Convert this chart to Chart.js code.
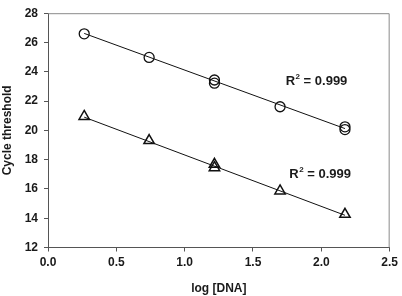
<!DOCTYPE html>
<html>
<head>
<meta charset="utf-8">
<script src="https://cdn.jsdelivr.net/npm/chart.js@4"></script>
<style>
html,body{margin:0;padding:0;background:#fff;}
#wrap{width:402px;height:296px;}
</style>
</head>
<body>
<div id="wrap"><canvas id="c" width="402" height="296"></canvas></div>
<script>
// Data
const circleX = [0.265, 0.74, 1.218, 1.218, 1.698, 2.173, 2.173];
const circleY = [26.59, 24.98, 23.44, 23.22, 21.61, 20.24, 20.05];
const triangleX = [0.265, 0.74, 1.218, 1.218, 1.698, 2.173];
const triangleY = [20.95, 19.3, 17.68, 17.45, 15.86, 14.27];
// Trend line endpoints
const fitTopX = [0.265, 2.173];
const fitTopY = [26.62, 20.12];
const fitBotX = [0.265, 2.173];
const fitBotY = [20.9, 14.2];
// Annotations
const r2Labels = ["R", "2", " = 0.999"];
const r2Pos = [{x: 1.739, y: 23.31}, {x: 1.766, y: 16.98}];
const xTitle = "log [DNA]";
const yTitle = "Cycle threshold";

const FONT = "'Liberation Sans', Arial, sans-serif";
const toPts = (xs, ys) => xs.map((x, i) => ({x: x, y: ys[i]}));

const framePlugin = {
  id: 'frame',
  afterDatasetsDraw(chart) {
    const {ctx, chartArea: a} = chart;
    ctx.save();
    ctx.strokeStyle = '#8a8a8a';
    ctx.lineWidth = 1;
    ctx.beginPath();
    ctx.moveTo(a.left, a.top + 0.5);
    ctx.lineTo(a.right - 0.5, a.top + 0.5);
    ctx.lineTo(a.right - 0.5, a.bottom);
    ctx.stroke();
    ctx.restore();
  }
};

const r2Plugin = {
  id: 'r2',
  afterDatasetsDraw(chart) {
    const {ctx, scales} = chart;
    ctx.save();
    ctx.fillStyle = '#1a1a1a';
    ctx.textBaseline = 'middle';
    ctx.textAlign = 'left';
    r2Pos.forEach(p => {
      let x = scales.x.getPixelForValue(p.x);
      const y = scales.y.getPixelForValue(p.y);
      ctx.font = "bold 13px " + FONT;
      ctx.fillText(r2Labels[0], x, y);
      x += ctx.measureText(r2Labels[0]).width + 0.5;
      ctx.font = "bold 8px " + FONT;
      ctx.fillText(r2Labels[1], x, y - 5);
      x += ctx.measureText(r2Labels[1]).width;
      ctx.font = "bold 13px " + FONT;
      ctx.fillText(r2Labels[2], x, y);
    });
    ctx.restore();
  }
};

new Chart(document.getElementById('c'), {
  type: 'scatter',
  data: {
    datasets: [
      {
        type: 'line', data: toPts(fitTopX, fitTopY), borderColor: '#111', borderWidth: 1,
        pointRadius: 0, fill: false, tension: 0
      },
      {
        type: 'line', data: toPts(fitBotX, fitBotY), borderColor: '#111', borderWidth: 1,
        pointRadius: 0, fill: false, tension: 0
      },
      {
        data: toPts(circleX, circleY), pointStyle: 'circle', pointRadius: 5,
        borderColor: '#111', borderWidth: 1.3, backgroundColor: 'rgba(0,0,0,0)'
      },
      {
        data: toPts(triangleX, triangleY), pointStyle: 'triangle', pointRadius: 6,
        borderColor: '#111', borderWidth: 1.5, backgroundColor: 'rgba(0,0,0,0)'
      }
    ]
  },
  options: {
    responsive: false,
    animation: false,
    layout: {padding: {top: 5, right: 8, left: 0, bottom: 0}},
    plugins: {legend: {display: false}, tooltip: {enabled: false}},
    scales: {
      x: {
        type: 'linear', min: 0, max: 2.5,
        ticks: {stepSize: 0.5, color: '#1a1a1a', padding: 4,
          font: {family: FONT, size: 12, weight: 'bold'},
          callback: v => v.toFixed(1)},
        grid: {drawOnChartArea: false, drawTicks: true, tickLength: 4, color: '#555'},
        border: {color: '#555', width: 1},
        title: {display: true, text: xTitle, color: '#1a1a1a', padding: 0,
          font: {family: FONT, size: 12, weight: 'bold'}},
        afterFit(s) { s.height = 48.5; }
      },
      y: {
        type: 'linear', min: 12, max: 28,
        ticks: {stepSize: 2, color: '#1a1a1a', padding: 6,
          font: {family: FONT, size: 12, weight: 'bold'}},
        grid: {drawOnChartArea: false, drawTicks: true, tickLength: 4, color: '#555'},
        border: {color: '#555', width: 1},
        title: {display: true, text: yTitle, color: '#1a1a1a', padding: 0,
          font: {family: FONT, size: 12, weight: 'bold'}},
        afterFit(s) { s.width = 48; }
      }
    }
  },
  plugins: [framePlugin, r2Plugin]
});
</script>
</body>
</html>
